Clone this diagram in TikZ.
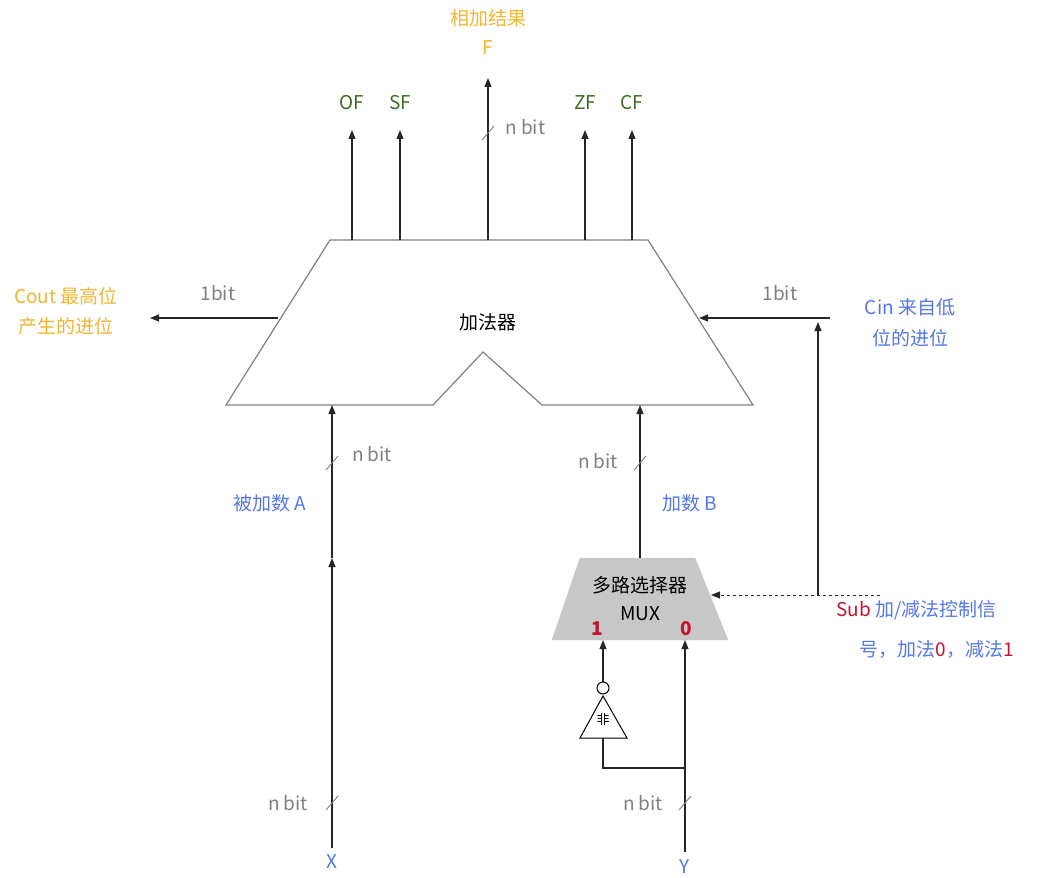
\documentclass[tikz,border=0pt]{standalone}
\usepackage{fontspec}
\setmainfont{Noto Sans CJK SC}
\usetikzlibrary{arrows.meta}
\definecolor{org}{HTML}{F2B530}
\definecolor{grn}{HTML}{3D6B1F}
\definecolor{blu}{HTML}{5577E6}
\definecolor{gry}{HTML}{808080}
\definecolor{rd}{HTML}{C41230}
\begin{document}
\begin{tikzpicture}[x=1pt,y=-1pt,
  wire/.style={line width=1.2pt,black!85},
  arr/.style={wire,-{Triangle[length=9pt,width=7pt]}},
  lbl/.style={font=\fontsize{19}{22}\selectfont,inner sep=0pt},
  tick/.style={gry,line width=0.9pt}]
\useasboundingbox (0,0) rectangle (1064,877);
% adder
\draw[gry,line width=1.2pt] (330,240)--(648,240)--(753,405)--(542,405)--(483,352)--(433,405)--(226,405)--cycle;
\node[lbl] (add) at (488,322) {加法器};
% outputs
\foreach \x/\t/\n in {352/OF/of,400/SF/sf,585/ZF/zf,632/CF/cf}{
  \coordinate (\n b) at (\x,240);
  \node[lbl,grn] (\n) at (\x,103) {\t};
  \draw[arr] (\n b) -- (\x,130);
}
\coordinate (fb) at (488,240);
\coordinate (ft) at (488,78);
\draw[arr] (fb) -- (ft);
\draw[tick] (482,140)--(494,126);
\node[lbl,gry,anchor=west] (fn) at (505,127) {n bit};
\node[lbl,org] (fl1) at (488,18) {相加结果};
\node[lbl,org] (fl2) at (488,48) {F};
% Cout
\coordinate (co1) at (278,318); \coordinate (co2) at (150,318);
\draw[arr] (co1) -- (co2);
\node[lbl,gry] (cb) at (218,293) {1bit};
\node[lbl,org] (col1) at (66,296) {Cout 最高位};
\node[lbl,org] (col2) at (66,326) {产生的进位};
% Cin
\coordinate (ci1) at (830,318); \coordinate (ci2) at (699,318);
\draw[arr] (ci1) -- (ci2);
\node[lbl,gry] (cib) at (780,293) {1bit};
\node[lbl,blu] (cil1) at (910,307) {Cin 来自低};
\node[lbl,blu] (cil2) at (910,338) {位的进位};
\coordinate (s1) at (818,595); \coordinate (s2) at (818,322);
\draw[arr] (s1) -- (s2);
% MUX
\draw[fill=black!22,draw=black!22] (580,558)--(695,558)--(728,640)--(552,640)--cycle;
\node[lbl] (mux1) at (640,585) {多路选择器};
\node[lbl] (mux2) at (640,614) {MUX};
\node[lbl,rd,font=\bfseries\fontsize{19}{22}\selectfont] (m1) at (597,629) {1};
\node[lbl,rd,font=\bfseries\fontsize{19}{22}\selectfont] (m0) at (686,629) {0};
\coordinate (sub1) at (880,595); \coordinate (sub2) at (711,595);
\draw[wire,dashed,-{Triangle[length=9pt,width=7pt]},line width=1pt] (sub1) -- (sub2);
\node[lbl,anchor=west] (subl1) at (836,610) {\textcolor{rd}{Sub} \textcolor{blu}{加/减法控制信}};
\node[lbl,blu] (subl2) at (937,650) {号，加法\textcolor{rd}{0}，减法\textcolor{rd}{1}};
% MUX output to adder
\coordinate (mo) at (640,558); \coordinate (bi) at (640,405);
\draw[arr] (mo) -- (bi);
\draw[tick] (634,470)--(646,456);
\node[lbl,gry] (bn) at (598,461) {n bit};
\node[lbl,blu] (bl) at (690,503) {加数 B};
% X path
\coordinate (xb) at (332,848); \coordinate (xm) at (332,558); \coordinate (xt) at (332,405);
\draw[arr] (xb) -- (xm);
\draw[arr] (xm) -- (xt);
\draw[tick] (326,470)--(338,456);
\node[lbl,gry] (an) at (372,454) {n bit};
\node[lbl,blu] (al) at (270,503) {被加数 A};
\draw[tick] (326,810)--(338,796);
\node[lbl,gry] (xn) at (288,803) {n bit};
\node[lbl,blu] (x) at (332,862) {X};
% Y path
\coordinate (yb) at (685,852); \coordinate (yt) at (685,640); \coordinate (yj) at (685,768);
\draw[arr] (yb) -- (yt);
\draw[tick] (679,810)--(691,796);
\node[lbl,gry] (yn) at (643,803) {n bit};
\node[lbl,blu] (y) at (685,867) {Y};
% NOT gate
\draw[line width=1pt] (603,696)--(627,738)--(580,738)--cycle;
\node[font=\fontsize{13}{14}\selectfont,inner sep=0pt] (not) at (603,720) {非};
\draw[line width=1pt] (603,688) circle (6);
\coordinate (no) at (603,682); \coordinate (mi) at (603,640);
\draw[arr] (no) -- (mi);
\draw[wire] (yj) -- (603,768) -- (603,738);
\end{tikzpicture}
\end{document}
